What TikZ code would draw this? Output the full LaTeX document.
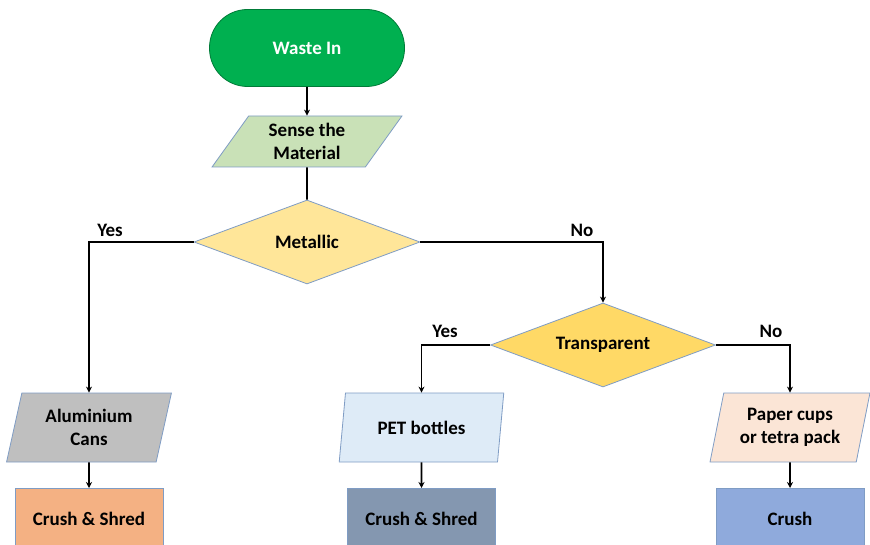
\documentclass[tikz,border=0pt]{standalone}
\usepackage{fontspec}
\setmainfont{Carlito}
\usetikzlibrary{shapes.geometric,arrows.meta}
\definecolor{startgreen}{HTML}{00B050}
\definecolor{sensefill}{HTML}{C9E1B7}
\definecolor{decfill}{HTML}{FFE699}
\definecolor{decfilltwo}{HTML}{FFD966}
\definecolor{alufill}{HTML}{BFBFBF}
\definecolor{petfill}{HTML}{DEEBF7}
\definecolor{paperfill}{HTML}{FBE5D6}
\definecolor{shredA}{HTML}{F4B183}
\definecolor{shredB}{HTML}{8497B0}
\definecolor{crushC}{HTML}{8FAADC}
\definecolor{edge}{HTML}{7F9CC4}
\tikzset{
  base/.style={font=\fontsize{19}{23.5}\selectfont\bfseries, align=center, inner sep=0pt, draw=edge, line width=0.8pt},
  startbox/.style={base, fill=startgreen, draw=startgreen!70!black, text=white, rounded corners=38pt, minimum width=195pt, minimum height=77pt},
  iobox/.style={base, trapezium, trapezium stretches=true, minimum height=69pt, minimum width=165pt, trapezium left angle=75, trapezium right angle=105},
  decision/.style={base, diamond, aspect=2.7, minimum width=226pt, minimum height=84pt},
  procbox/.style={base, minimum width=148pt, minimum height=62pt},
  flow/.style={line width=1.8pt, -{Stealth[length=6pt,width=6pt]}},
  branchlabel/.style={font=\fontsize{19}{23}\selectfont\bfseries, inner sep=0pt}
}
\begin{document}
\begin{tikzpicture}[x=1pt,y=-1pt]
\useasboundingbox (0,0) rectangle (870,545);
\clip (0,0) rectangle (870,545);

% start and sensing
\node[startbox] (start) at (307,48) {Waste In};
\node[iobox, fill=sensefill, minimum width=190pt, minimum height=51pt,
      trapezium left angle=57, trapezium right angle=123] (sense) at (307,141.5) {Sense the\\Material};

% decisions
\node[decision, fill=decfill] (metal) at (307,242) {Metallic};
\node[decision, fill=decfilltwo, minimum width=225pt] (trans) at (603,345) {Transparent};

% material classes
\node[iobox, fill=alufill] (alu) at (89,427.5) {Aluminium\\Cans};
\node[iobox, fill=petfill] (pet) at (421.5,427.5) {PET bottles};
\node[iobox, fill=paperfill, minimum width=160pt] (paper) at (790,427.5) {Paper cups\\or tetra pack};

% processing (lower edge runs past the page and is cut off)
\node[procbox, fill=shredA, anchor=north] (shredA) at (89,488) {Crush \& Shred};
\node[procbox, fill=shredB, anchor=north] (shredB) at (421.5,488) {Crush \& Shred};
\node[procbox, fill=crushC, anchor=north] (crushC) at (790,488) {Crush};

% connectors
\draw[flow] (start.south) -- (sense.north);
\draw[line width=1.8pt] (sense.south) -- (metal.north);
\draw[flow] (metal.west) -| (alu.north);
\draw[flow] (metal.east) -| (trans.north);
\draw[flow] (trans.west) -| (pet.north);
\draw[flow] (trans.east) -| (paper.north);
\draw[flow] (alu.south) -- (shredA.north);
\draw[flow] (pet.south) -- (shredB.north);
\draw[flow] (paper.south) -- (crushC.north);

% branch labels
\node[branchlabel] (yesA) at (110,230) {Yes};
\node[branchlabel] (noA) at (582,230) {No};
\node[branchlabel] (yesB) at (445,331) {Yes};
\node[branchlabel] (noB) at (771,331) {No};
\end{tikzpicture}
\end{document}
